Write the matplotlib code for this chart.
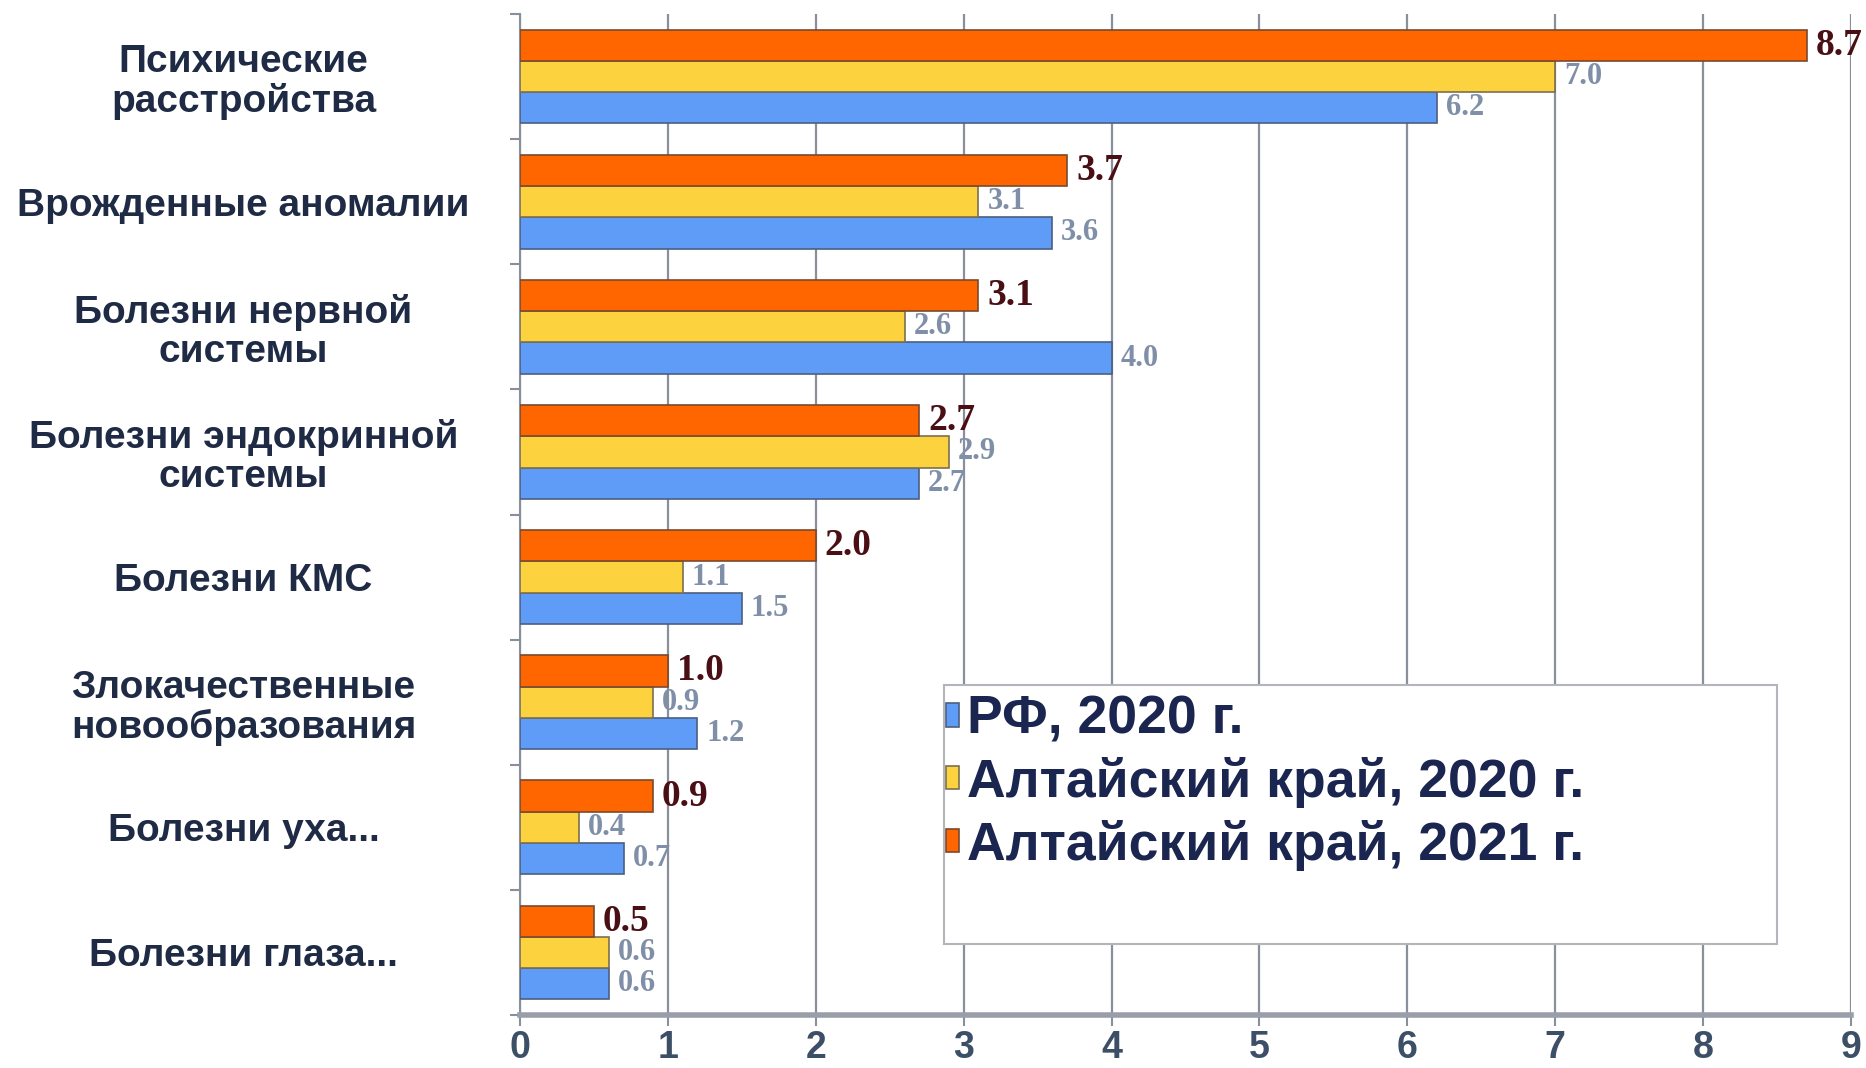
import matplotlib
matplotlib.use("Agg")
import matplotlib.pyplot as plt
from matplotlib.patches import Rectangle
import numpy as np

categories = [
    "Психические\nрасстройства",
    "Врожденные аномалии",
    "Болезни нервной\nсистемы",
    "Болезни эндокринной\nсистемы",
    "Болезни КМС",
    "Злокачественные\nновообразования",
    "Болезни уха...",
    "Болезни глаза...",
]
series_names = ["РФ, 2020 г.", "Алтайский край, 2020 г.", "Алтайский край, 2021 г."]
rf_2020 = [6.2, 3.6, 4.0, 2.7, 1.5, 1.2, 0.7, 0.6]
ak_2020 = [7.0, 3.1, 2.6, 2.9, 1.1, 0.9, 0.4, 0.6]
ak_2021 = [8.7, 3.7, 3.1, 2.7, 2.0, 1.0, 0.9, 0.5]
x_ticks = [0, 1, 2, 3, 4, 5, 6, 7, 8, 9]

colors = ["#5f9cf8", "#fdd23f", "#ff6600"]
edges = ["#4a5f80", "#7a7050", "#7a4a30"]
label_colors = ["#7f8fa8", "#7f8fa8", "#4a0f14"]
label_sizes = [22, 22, 27]

W, H = 1866, 1068
fig = plt.figure(figsize=(W / 100, H / 100), dpi=100)
ax = fig.add_axes([520 / W, 1 - 1015 / H, (1851 - 520) / W, (1015 - 14) / H])

n = len(categories)
y = np.arange(n)
h = 0.25
offsets = [h, 0.0, -h]  # RF lowest, AK2021 on top
data = [rf_2020, ak_2020, ak_2021]

for i, (vals, name) in enumerate(zip(data, series_names)):
    ys = y + offsets[i]
    ax.barh(ys, vals, height=h, color=colors[i], edgecolor=edges[i],
            linewidth=1.2, label=name, zorder=3)
    for yy, v in zip(ys, vals):
        ax.text(v + 0.06, yy, f"{v:.1f}", va="center", ha="left",
                family="Liberation Serif", weight="bold",
                fontsize=label_sizes[i], color=label_colors[i], zorder=4,
                clip_on=False)

ax.set_ylim(n - 0.5, -0.5)
ax.set_xlim(0, 9)

# category boundary ticks
ax.set_yticks(np.arange(-0.5, n, 1.0))
ax.set_yticklabels([])
ax.set_yticks(y, minor=True)
ax.set_yticklabels(categories, minor=True)
ax.tick_params(axis="y", which="major", length=7, width=1.5, color="#8a8f9c", direction="out")
ax.tick_params(axis="y", which="minor", length=0, pad=199)
for lbl in ax.get_yticklabels(minor=True):
    lbl.set_ha("center")
    lbl.set_family("Liberation Sans")
    lbl.set_weight("bold")
    lbl.set_fontsize(28)
    lbl.set_color("#1f2b45")
    lbl.set_linespacing(1.1)

ax.set_xticks(x_ticks)
ax.set_xticklabels([str(t) for t in x_ticks])
ax.tick_params(axis="x", length=8, width=1.5, color="#8a8f9c", pad=3)
for lbl in ax.get_xticklabels():
    lbl.set_family("Liberation Sans")
    lbl.set_weight("bold")
    lbl.set_fontsize(27)
    lbl.set_color("#3d4f66")

ax.grid(axis="x", color="#8a8f9c", linewidth=1.6, zorder=1)
for s in ["top", "right"]:
    ax.spines[s].set_visible(False)
ax.spines["left"].set_color("#8a8f9c")
ax.spines["left"].set_linewidth(1.5)
ax.spines["bottom"].set_color("#9a9ea8")
ax.spines["bottom"].set_linewidth(4)

# legend box
box = Rectangle((944 / W, 1 - 944 / H), (1777 - 944) / W, (944 - 685) / H,
                transform=fig.transFigure, facecolor="white", edgecolor="#b4b4bc",
                linewidth=1.5, zorder=4.5, clip_on=False)
ax.add_patch(box)

handles, labels = ax.get_legend_handles_labels()
leg = ax.legend(handles, labels, loc="upper left",
                bbox_to_anchor=(946 / W, 1 - 695 / H), bbox_transform=fig.transFigure,
                prop={"family": "Liberation Sans", "weight": "bold", "size": 38.5},
                frameon=False, handlelength=0.25, handleheight=0.3,
                handletextpad=0.15, borderpad=0.0, labelspacing=0.22,
                borderaxespad=0)
for t in leg.get_texts():
    t.set_color("#1a2550")
leg.set_zorder(5)

fig.savefig("out.png", dpi=100)
